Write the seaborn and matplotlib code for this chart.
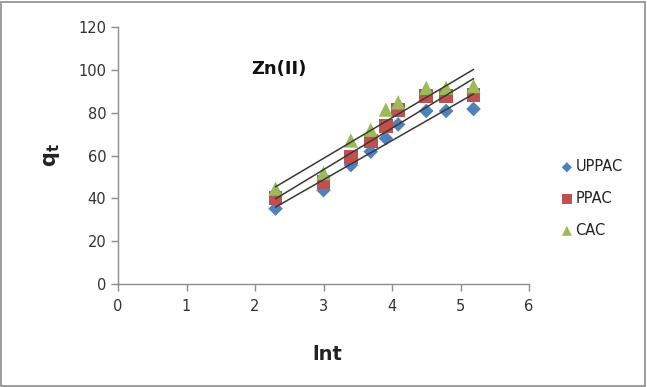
import numpy as np
import pandas as pd
import matplotlib
matplotlib.use("Agg")
import matplotlib.pyplot as plt
import seaborn as sns
from matplotlib.patches import Rectangle

lnt = [2.30, 3.00, 3.40, 3.69, 3.91, 4.09, 4.50, 4.79, 5.19]
uppac = [35.2, 43.8, 55.5, 61.8, 68.0, 74.5, 80.8, 80.8, 81.7]
ppac = [40.0, 47.8, 59.5, 66.8, 73.8, 81.2, 87.8, 87.8, 88.4]
cac = [44.5, 51.8, 67.0, 72.0, 81.4, 84.8, 91.6, 91.6, 92.4]
series = ["UPPAC", "PPAC", "CAC"]

df = pd.DataFrame({
    "lnt": lnt * 3,
    "qt": uppac + ppac + cac,
    "series": [s for s in series for _ in lnt],
})

sns.set_theme(style="white")
plt.rcParams['font.family'] = ['DejaVu Sans']

W, H = 647, 387
fig = plt.figure(figsize=(W / 100, H / 100), dpi=100)
ax = fig.add_axes([118 / W, 1 - 284 / H, (529 - 118) / W, (284 - 27) / H])

colors = {"UPPAC": "#4F81BD", "PPAC": "#C0504D", "CAC": "#9BBB59"}
markers = {"UPPAC": "D", "PPAC": "s", "CAC": "^"}
sizes = {"UPPAC": 55, "PPAC": 100, "CAC": 105}

for s in series:
    sub = df[df.series == s]
    sns.regplot(data=sub, x="lnt", y="qt", ax=ax, scatter=False, ci=None,
                line_kws=dict(color="#383838", lw=1.1, zorder=4))
for s in series:
    sub = df[df.series == s]
    sns.scatterplot(data=sub, x="lnt", y="qt", ax=ax, color=colors[s],
                    marker=markers[s], s=sizes[s], edgecolor="none",
                    label=s, zorder=3)

ax.set_xlim(0, 6)
ax.set_ylim(0, 120)
ax.set_xticks(range(0, 7))
ax.set_yticks(range(0, 121, 20))
for side in ["top", "right"]:
    ax.spines[side].set_visible(False)
for side in ["left", "bottom"]:
    ax.spines[side].set_color("#8c8c8c")
    ax.spines[side].set_linewidth(1)
ax.tick_params(axis="both", which="major", direction="out", length=5,
               width=1, color="#8c8c8c", labelsize=10.5, labelcolor="#333333",
               bottom=True, left=True)
ax.tick_params(axis="x", pad=6)

ax.set_xlabel("")
ax.set_ylabel("")
fig.text(327 / W, 1 - 355 / H, "lnt", ha="center", va="center",
         fontsize=14, fontweight="bold", color="#222222")
fig.text(52 / W, 1 - 155 / H, r"$\mathbf{q_t}$", ha="center", va="center",
         fontsize=15, rotation=90, color="#222222")
ax.text(2.35, 100.5, "Zn(II)", ha="center", va="center", fontsize=13,
        fontweight="bold", color="#111111")

handles, labels = ax.get_legend_handles_labels()
if ax.legend_:
    ax.legend_.remove()
leg = fig.legend(handles, labels, loc="upper left",
                 bbox_to_anchor=(545 / W, 1 - 146 / H), frameon=False,
                 fontsize=10.5, labelspacing=1.15, handletextpad=0.0,
                 handlelength=1.2, markerscale=0.7)
for t in leg.get_texts():
    t.set_color("#222222")

fig.patches.append(Rectangle((1 / W, 1 / H), 1 - 3 / W, 1 - 3 / H,
                             transform=fig.transFigure, fill=False,
                             edgecolor="#8c8c8c", lw=1.2))

fig.savefig("out.png", dpi=100)
